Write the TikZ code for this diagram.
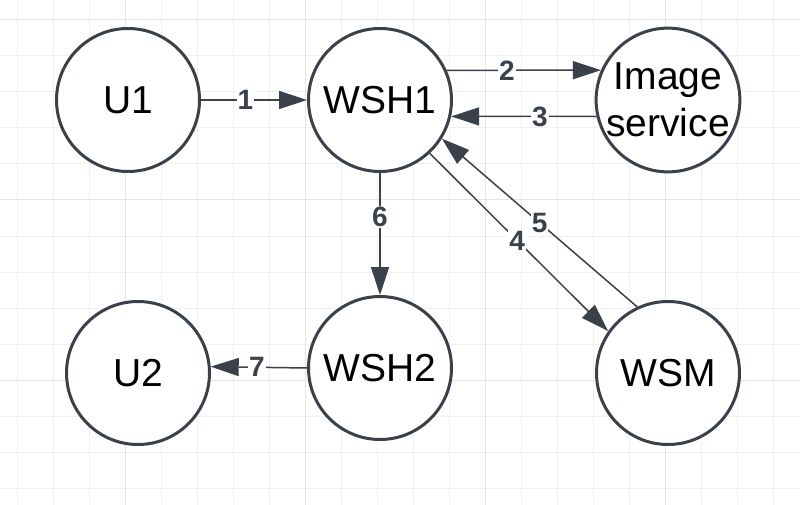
\documentclass[tikz,border=0pt]{standalone}
\usepackage{fontspec}
\setmainfont{Liberation Sans}
\usepackage{tikz}
\usetikzlibrary{arrows.meta}

\definecolor{ink}{RGB}{58,65,74}
\definecolor{gridminor}{RGB}{240,240,240}
\definecolor{gridmajor}{RGB}{228,228,228}

\begin{document}
\begin{tikzpicture}[x=1pt,y=-1pt,
  peer/.style={circle,draw=ink,line width=3pt,fill=white,minimum size=143pt,inner sep=0pt,
    align=center,font=\fontsize{39}{47}\selectfont},
  msg/.style={draw=ink,line width=1.5pt,-{Triangle[length=28pt,width=18pt]}},
  num/.style={fill=white,inner sep=1pt,text=ink,font=\bfseries\fontsize{28}{30}\selectfont}]
\path[use as bounding box] (0,0) rectangle (800,505);
\path[fill=white] (0,0) rectangle (800,505);
% grid
\foreach \x in {17,53,...,800} \draw[gridminor,line width=1pt] (\x,0) -- (\x,505);
\foreach \y in {20,56,...,505} \draw[gridminor,line width=1pt] (0,\y) -- (800,\y);
\foreach \x in {125,305,485,665} \draw[gridmajor,line width=1pt] (\x,0) -- (\x,505);
\foreach \y in {20,200,380} \draw[gridmajor,line width=1pt] (0,\y) -- (800,\y);
% peers
\node[peer] (u1) at (128,100) {U1};
\node[peer] (wsh1) at (380,100) {WSH1};
\node[peer] (img) at (668,100) {Image\\service};
\node[peer] (u2) at (138,373) {U2};
\node[peer] (wsh2) at (380,368) {WSH2};
\node[peer] (wsm) at (668,373) {WSM};
% messages
\draw[msg] (u1.east) -- node[num,pos=.42] (n1) {1} (wsh1.west);
\draw[msg] (wsh1.24) -- node[num,pos=.39] (n2) {2} (img.156);
\draw[msg] (img.193) -- node[num,pos=.39] (n3) {3} (wsh1.-13);
\draw[msg] (wsh1.-47.7) -- node[num,pos=.49] (n4) {4} (wsm.145.5);
\draw[msg] (wsm.115) -- node[num,pos=.5] (n5) {5} (wsh1.-32.4);
\draw[msg] (wsh1.south) -- node[num,pos=.36] (n6) {6} (wsh2.north);
\draw[msg] (wsh2.west) -- node[num,pos=.52] (n7) {7} (u2.5);
\end{tikzpicture}
\end{document}
